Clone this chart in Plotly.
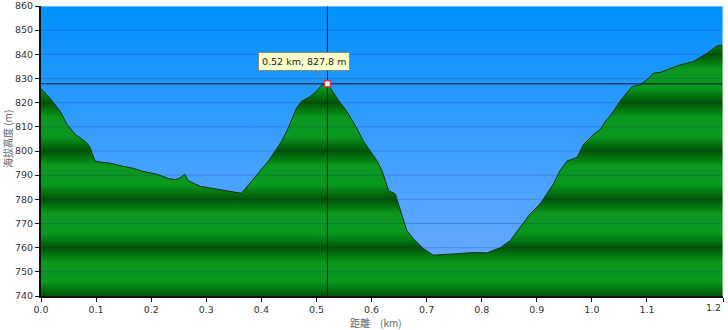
import plotly.graph_objects as go

# ---- data ----
distance_km = [0.000, 0.016, 0.035, 0.047, 0.062, 0.071, 0.083, 0.089, 0.098, 0.110,
               0.125, 0.150, 0.168, 0.186, 0.210, 0.234, 0.245, 0.252, 0.261, 0.267,
               0.289, 0.320, 0.345, 0.364, 0.383, 0.392, 0.398, 0.413, 0.425, 0.437,
               0.449, 0.457, 0.464, 0.473, 0.488, 0.501, 0.510, 0.520, 0.525, 0.537,
               0.555, 0.573, 0.585, 0.597, 0.610, 0.619, 0.625, 0.631, 0.643, 0.649,
               0.656, 0.664, 0.676, 0.694, 0.712, 0.737, 0.755, 0.773, 0.790, 0.809,
               0.834, 0.852, 0.870, 0.888, 0.906, 0.918, 0.930, 0.942, 0.955, 0.973,
               0.985, 0.991, 1.003, 1.015, 1.027, 1.033, 1.051, 1.073, 1.088, 1.100,
               1.112, 1.124, 1.140, 1.160, 1.184, 1.200, 1.209, 1.227, 1.236, 1.238]
elevation_m = [825.8, 821.9, 816.4, 811.0, 806.9, 805.5, 803.4, 801.4, 795.9, 795.3,
               795.0, 793.6, 792.8, 791.5, 790.4, 788.4, 788.2, 788.8, 790.4, 787.7,
               785.4, 784.2, 783.3, 782.5, 787.7, 790.4, 791.8, 795.9, 800.0, 804.1,
               809.6, 813.7, 817.8, 820.6, 822.4, 824.9, 827.4, 827.8, 826.1, 821.9,
               816.4, 809.6, 804.1, 800.0, 795.9, 791.8, 787.7, 783.6, 782.2, 778.1,
               773.3, 767.1, 763.7, 759.6, 756.9, 757.1, 757.5, 757.8, 758.0, 757.8,
               760.0, 763.0, 768.5, 774.0, 778.1, 782.2, 786.3, 791.8, 795.9, 797.3,
               802.8, 804.1, 806.9, 808.9, 813.0, 814.4, 820.6, 826.7, 827.4, 829.5,
               832.2, 832.5, 834.0, 835.6, 837.0, 839.0, 840.4, 843.4, 843.8, 842.5]

x_max = 1.238
y_min, y_max = 740, 860
x_tick_vals = [0.0, 0.1, 0.2, 0.3, 0.4, 0.5, 0.6, 0.7, 0.8, 0.9, 1.0, 1.1, x_max]
x_tick_text = ["0.0", "0.1", "0.2", "0.3", "0.4", "0.5", "0.6", "0.7", "0.8", "0.9", "1.0", "1.1", "1.2"]
y_tick_vals = [740, 750, 760, 770, 780, 790, 800, 810, 820, 830, 840, 850, 860]
y_tick_text = [str(v) for v in y_tick_vals]

cursor_x = 0.52
cursor_y = 827.8
cursor_label = "0.52 km, 827.8 m"
x_title = "距離\u3000(km)"
y_title = "海拔高度 (m)"

# ---- styles ----
def green_scale():
    dark = "rgb(0,84,4)"
    mid = "rgb(4,118,16)"
    light = "rgb(10,152,32)"
    stops = []
    span = y_max - y_min
    for k in range(0, 7):
        base = y_min + 20 * k
        for off, col in [(-10, light), (-6, light), (-3, mid), (0, dark), (3, mid), (6, light), (10, light)]:
            v = base + off
            if y_min <= v <= y_max:
                stops.append(((v - y_min) / span, col))
    stops = sorted(set(stops), key=lambda s: s[0])
    out = []
    for p, c in stops:
        if out and abs(out[-1][0] - p) < 1e-9:
            continue
        out.append([p, c])
    out[0][0] = 0.0
    out[-1][0] = 1.0
    return out

fig = go.Figure()

# sky
fig.add_trace(go.Scatter(
    x=[0, x_max], y=[y_max, y_max], mode="lines", line=dict(width=0),
    fill="tozeroy",
    fillgradient=dict(type="vertical", start=y_min, stop=y_max,
                      colorscale=[[0, "rgb(115,170,255)"], [0.5, "rgb(62,160,255)"], [1, "rgb(0,144,252)"]]),
    hoverinfo="skip", showlegend=False))

# terrain
fig.add_trace(go.Scatter(
    x=distance_km, y=elevation_m, mode="lines",
    line=dict(color="rgb(10,50,10)", width=1),
    fill="tozeroy",
    fillgradient=dict(type="vertical", start=y_min, stop=y_max, colorscale=green_scale()),
    hoverinfo="skip", showlegend=False))

# gridlines
shapes = []
for v in y_tick_vals[1:-1]:
    shapes.append(dict(type="line", xref="x", yref="y", x0=0, x1=x_max, y0=v, y1=v,
                       line=dict(color="rgba(0,40,110,0.22)", width=1), layer="above"))
# light frame on top / right
shapes.append(dict(type="line", xref="paper", yref="paper", x0=0, x1=1, y0=1, y1=1,
                   line=dict(color="rgba(255,255,255,0.8)", width=1), layer="above"))
shapes.append(dict(type="line", xref="paper", yref="paper", x0=1, x1=1, y0=0, y1=1,
                   line=dict(color="rgba(255,255,255,0.8)", width=1), layer="above"))

# crosshair (as traces so the marker sits on top)
fig.add_trace(go.Scatter(x=[cursor_x, cursor_x], y=[y_min, y_max], mode="lines",
                         line=dict(color="rgb(10,20,40)", width=1), hoverinfo="skip", showlegend=False))
fig.add_trace(go.Scatter(x=[0, x_max], y=[cursor_y, cursor_y], mode="lines",
                         line=dict(color="rgb(10,20,40)", width=1), hoverinfo="skip", showlegend=False))

fig.add_trace(go.Scatter(
    x=[cursor_x], y=[cursor_y], mode="markers",
    marker=dict(symbol="square", size=6, color="white", line=dict(color="rgb(210,60,90)", width=1.5)),
    hoverinfo="skip", showlegend=False))

tick_font = dict(family="DejaVu Sans", size=9.5, color="#333")
annotations = [
    dict(x=cursor_x, y=cursor_y, xref="x", yref="y", text=cursor_label,
         showarrow=True, ax=-23, ay=-22, arrowhead=0, arrowwidth=1, arrowcolor="#777",
         standoff=4, bgcolor="#ffffcc", bordercolor="#888", borderwidth=1, borderpad=3,
         font=dict(family="DejaVu Sans", size=9.5, color="#222")),
    dict(x=x_max, y=0, xref="x", yref="paper", text=x_tick_text[-1], showarrow=False,
         xanchor="right", yanchor="top", yshift=-4, font=tick_font),
    dict(x=0.5, y=0, xref="paper", yref="paper", text=x_title, showarrow=False,
         xanchor="center", yanchor="middle", yshift=-26, xshift=-6,
         font=dict(family="Noto Sans CJK TC", size=10, color="#666")),
    dict(x=0, y=0.5, xref="paper", yref="paper", text=y_title, showarrow=False,
         textangle=-90, xanchor="center", yanchor="middle", xshift=-34, yshift=12,
         font=dict(family="Noto Sans CJK TC", size=10, color="#666")),
]

fig.update_layout(
    width=728, height=330,
    margin=dict(l=41, r=5, t=6, b=34, autoexpand=False),
    paper_bgcolor="white", plot_bgcolor="rgb(60,160,255)",
    shapes=shapes, annotations=annotations,
    xaxis=dict(range=[0, x_max], tickvals=x_tick_vals, ticktext=x_tick_text[:-1] + [""],
               showgrid=False, zeroline=False, showline=True, linecolor="#111", linewidth=2,
               ticks="outside", ticklen=4, tickcolor="#111", tickfont=tick_font, layer="above traces",
               ticklabeloverflow="allow"),
    yaxis=dict(range=[y_min, y_max], tickvals=y_tick_vals, ticktext=y_tick_text,
               showgrid=False, zeroline=False, showline=True, linecolor="#111", linewidth=2,
               ticks="outside", ticklen=4, tickcolor="#111", tickfont=tick_font, layer="above traces",
               ticklabeloverflow="allow"),
)

fig.write_html("out.html")
